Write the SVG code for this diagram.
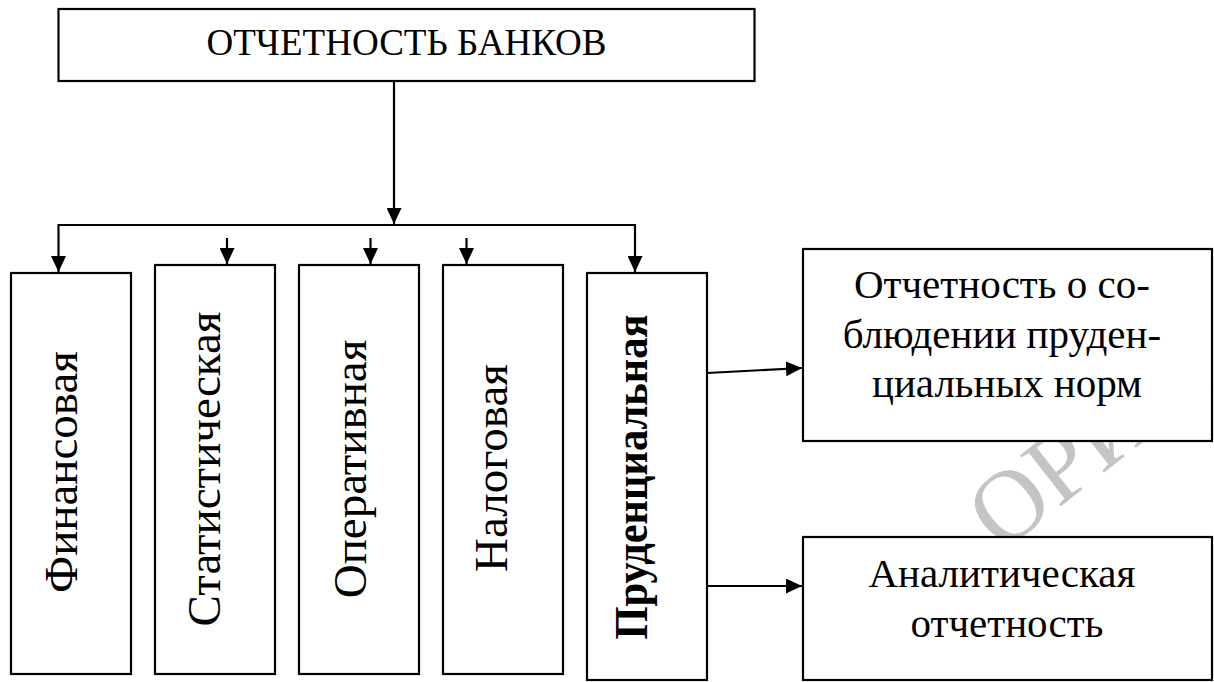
<svg xmlns="http://www.w3.org/2000/svg" width="1214" height="682" viewBox="0 0 1214 682">
  <style>
    .box { fill: #ffffff; stroke: #000000; stroke-width: 2.2; }
    .ln { fill: none; stroke: #000000; stroke-width: 2.2; }
    .t { font-family: "Liberation Serif", "Times New Roman", serif; fill: #000000; }
    .wm { font-family: "Liberation Serif", "Times New Roman", serif; fill: #c4c4c4; font-size: 100px; }
  </style>
  <defs>
    <marker id="ah" markerUnits="userSpaceOnUse" markerWidth="16" markerHeight="15" refX="16" refY="7.5" orient="auto">
      <path d="M0,0 L16,7.5 L0,15 Z" fill="#000000"/>
    </marker>
  </defs>
  <rect width="1214" height="682" fill="#ffffff"/>

  <!-- watermark (partly hidden behind the boxes) -->
  <text class="wm" transform="translate(1001,553) rotate(-38)">ОРИЙ</text>

  <g id="top">
    <rect class="box" x="58.5" y="9" width="696" height="72"/>
    <text class="t" x="406.5" y="55" font-size="37" text-anchor="middle" textLength="400" lengthAdjust="spacingAndGlyphs">ОТЧЕТНОСТЬ БАНКОВ</text>
  </g>

  <g id="fin">
    <rect class="box" x="11" y="273" width="120" height="401"/>
    <text class="t" font-size="47" text-anchor="middle" transform="translate(77,472) rotate(-90)">Финансовая</text>
  </g>
  <g id="stat">
    <rect class="box" x="155" y="265" width="120" height="409"/>
    <text class="t" font-size="47" text-anchor="middle" transform="translate(220,469) rotate(-90)">Статистическая</text>
  </g>
  <g id="oper">
    <rect class="box" x="299" y="265" width="120" height="409"/>
    <text class="t" font-size="47" text-anchor="middle" transform="translate(366,469) rotate(-90)">Оперативная</text>
  </g>
  <g id="nal">
    <rect class="box" x="443" y="265" width="120" height="409"/>
    <text class="t" font-size="47" text-anchor="middle" transform="translate(507,468) rotate(-90)">Налоговая</text>
  </g>
  <g id="prud">
    <rect class="box" x="587" y="273" width="120" height="407"/>
    <text class="t" font-size="47" font-weight="bold" text-anchor="middle" transform="translate(647,477) rotate(-90)" textLength="325" lengthAdjust="spacingAndGlyphs">Пруденциальная</text>
  </g>

  <g id="norm">
    <rect class="box" x="803" y="249" width="409" height="192"/>
    <text class="t" font-size="41" text-anchor="middle">
      <tspan x="1007" y="298">Отчетность о со-</tspan>
      <tspan x="1007" y="348">блюдении пруден-</tspan>
      <tspan x="1007" y="397">циальных норм</tspan>
    </text>
  </g>
  <g id="anal">
    <rect class="box" x="803" y="537" width="409" height="143"/>
    <text class="t" font-size="41" text-anchor="middle">
      <tspan x="1007" y="587">Аналитическая</tspan>
      <tspan x="1007" y="637">отчетность</tspan>
    </text>
  </g>

  <g id="connectors">
    <line class="ln" x1="394" y1="81" x2="394" y2="224" marker-end="url(#ah)"/>
    <line class="ln" x1="58.5" y1="225" x2="635" y2="225"/>
    <line class="ln" x1="58.5" y1="224" x2="58.5" y2="272" marker-end="url(#ah)"/>
    <line class="ln" x1="635" y1="224" x2="635" y2="272" marker-end="url(#ah)"/>
    <line class="ln" x1="227" y1="238" x2="227" y2="264" marker-end="url(#ah)"/>
    <line class="ln" x1="370.5" y1="238" x2="370.5" y2="264" marker-end="url(#ah)"/>
    <line class="ln" x1="466.5" y1="238" x2="466.5" y2="264" marker-end="url(#ah)"/>
    <line class="ln" x1="707" y1="373" x2="802" y2="368" marker-end="url(#ah)"/>
    <line class="ln" x1="707" y1="586" x2="802" y2="586" marker-end="url(#ah)"/>
  </g>
</svg>
